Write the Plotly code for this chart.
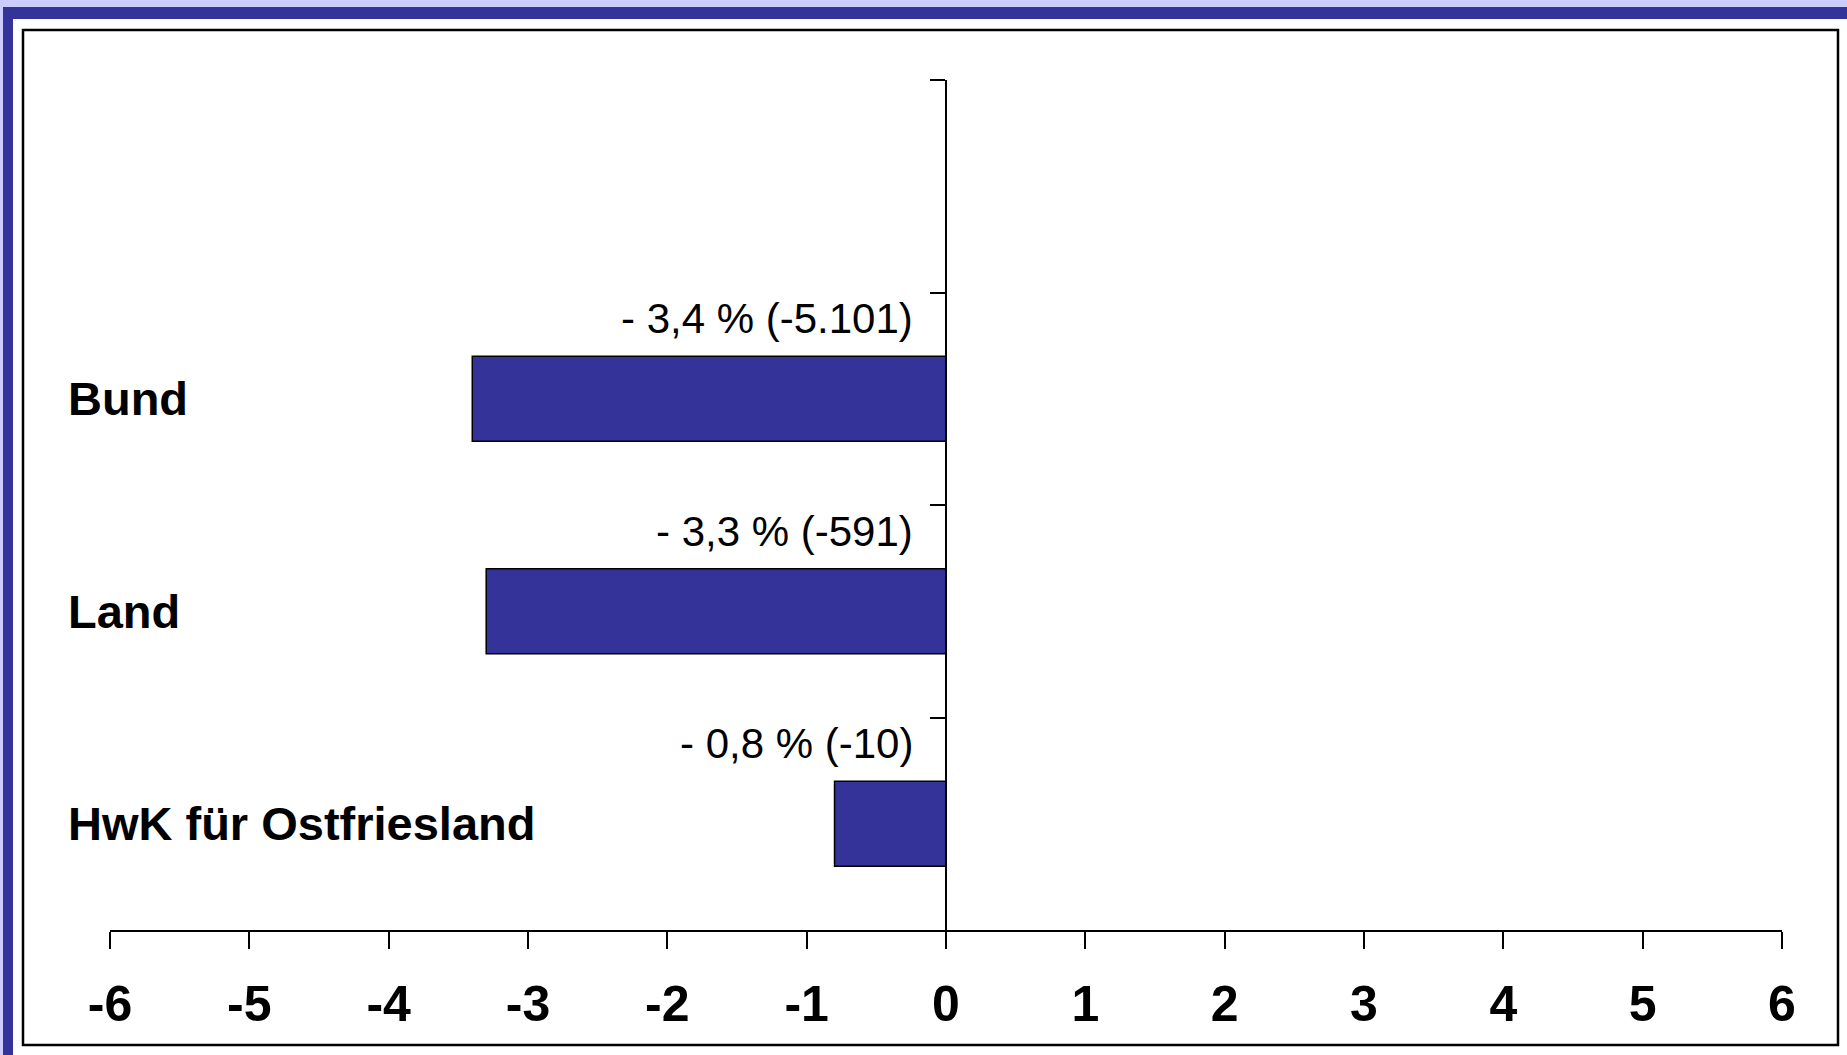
import plotly.graph_objects as go

# ---- data ----
categories = ["Bund", "Land", "HwK für Ostfriesland"]
values = [-3.4, -3.3, -0.8]
value_labels = ["- 3,4 % (-5.101)", "- 3,3 % (-591)", "- 0,8 % (-10)"]
axis_categories = [" ", "Bund", "Land", "HwK für Ostfriesland"]
x_ticks = [-6, -5, -4, -3, -2, -1, 0, 1, 2, 3, 4, 5, 6]

W, H = 1847, 1055
ML, MR, MT, MB = 110, 65, 80, 125
PW = W - ML - MR
PH = H - MT - MB

def px(xp):
    return (xp - ML) / PW

def py(yp):
    return (H - MB - yp) / PH

DARK = "#333399"
LAV = "#ccccff"
FONT = "Arial, Liberation Sans, sans-serif"

fig = go.Figure()
fig.add_trace(go.Bar(
    x=values, y=categories, orientation="h",
    marker=dict(color=DARK, line=dict(color="black", width=1.5)),
    hoverinfo="skip", showlegend=False,
))

shapes = [
    dict(type="rect", xref="paper", yref="paper", x0=px(0), x1=px(W), y0=py(0), y1=py(7),
         fillcolor=LAV, line=dict(width=0), layer="below"),
    dict(type="rect", xref="paper", yref="paper", x0=px(0), x1=px(3), y0=py(0), y1=py(H),
         fillcolor=LAV, line=dict(width=0), layer="below"),
    dict(type="rect", xref="paper", yref="paper", x0=px(3), x1=px(W), y0=py(7), y1=py(19),
         fillcolor=DARK, line=dict(width=0), layer="below"),
    dict(type="rect", xref="paper", yref="paper", x0=px(3), x1=px(13), y0=py(7), y1=py(H),
         fillcolor=DARK, line=dict(width=0), layer="below"),
    dict(type="rect", xref="paper", yref="paper", x0=px(23), x1=px(1838), y0=py(30), y1=py(1045),
         fillcolor="rgba(0,0,0,0)", line=dict(color="black", width=2.5), layer="below"),
]

annotations = []
for c in categories:
    annotations.append(dict(
        x=px(66), xref="paper", y=c, yref="y", text=c, showarrow=False,
        xanchor="left", yanchor="middle",
        font=dict(family=FONT, size=47, color="black", weight="bold"),
    ))
for c, t in zip(categories, value_labels):
    annotations.append(dict(
        x=0, xref="x", y=c, yref="y", text=t, showarrow=False,
        xanchor="right", yanchor="middle", xshift=-31, yshift=80,
        font=dict(family=FONT, size=42, color="black"),
    ))

fig.update_layout(
    width=W, height=H,
    margin=dict(l=ML, r=MR, t=MT, b=MB),
    paper_bgcolor="white", plot_bgcolor="white",
    bargap=0.6,
    shapes=shapes, annotations=annotations,
    xaxis=dict(
        range=[-6, 6], tickvals=x_ticks, ticktext=[str(v) for v in x_ticks],
        showline=True, linecolor="black", linewidth=2,
        ticks="outside", ticklen=17, tickwidth=2, tickcolor="black",
        showgrid=False, zeroline=False,
        tickfont=dict(family=FONT, size=50, color="black", weight="bold"),
        ticklabelstandoff=12,
    ),
    yaxis=dict(
        type="category", categoryorder="array", categoryarray=axis_categories,
        range=[3.5, -0.5], anchor="free", position=0.5,
        showline=True, linecolor="black", linewidth=2,
        ticks="outside", tickson="boundaries", ticklen=15, tickwidth=2, tickcolor="black",
        showticklabels=False, showgrid=False, zeroline=False,
    ),
)

fig.write_html(
    "out.html",
    config={"displayModeBar": False},
    post_script="document.body.style.margin='0';document.body.style.overflow='hidden';",
)
